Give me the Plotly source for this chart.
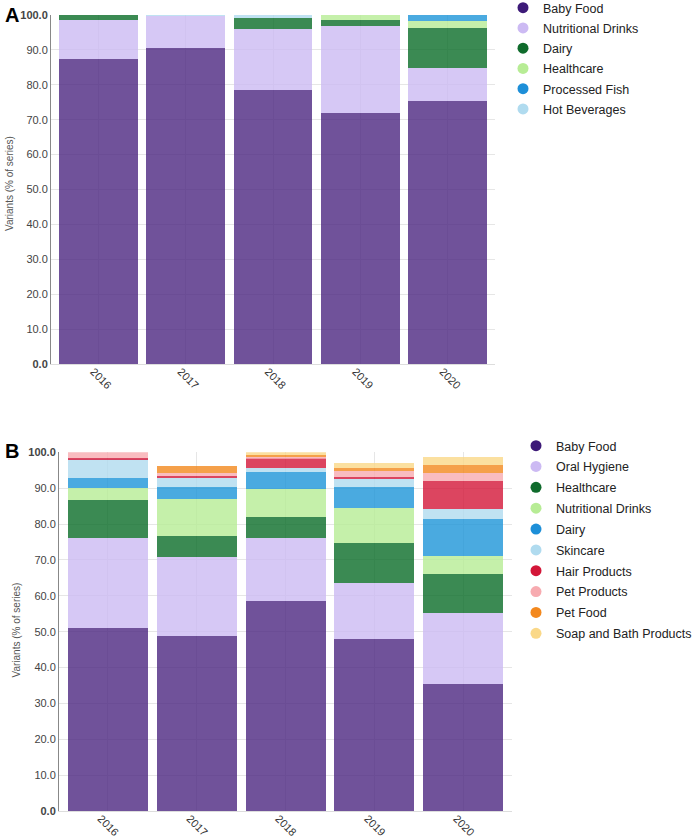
import plotly.graph_objects as go

years = ["2016", "2017", "2018", "2019", "2020"]

# Panel A (stacked % of series)
a_series = ["Baby Food", "Nutritional Drinks", "Dairy", "Healthcare", "Processed Fish", "Hot Beverages"]
a_baby_food = [87.3, 90.6, 78.5, 71.8, 75.4]
a_nutritional_drinks = [11.3, 9.2, 17.5, 25.1, 9.5]
a_dairy = [1.4, 0.0, 3.1, 1.6, 11.5]
a_healthcare = [0.0, 0.0, 0.0, 1.5, 2.0]
a_processed_fish = [0.0, 0.0, 0.0, 0.0, 1.6]
a_hot_beverages = [0.0, 0.2, 0.9, 0.0, 0.0]

# Panel B
b_series = ["Baby Food", "Oral Hygiene", "Healthcare", "Nutritional Drinks", "Dairy", "Skincare",
            "Hair Products", "Pet Products", "Pet Food", "Soap and Bath Products"]
b_baby_food = [50.9, 48.7, 58.5, 47.9, 35.5]
b_oral_hygiene = [25.1, 22.2, 17.5, 15.6, 19.6]
b_healthcare = [10.7, 5.8, 6.0, 11.1, 10.9]
b_nutritional_drinks = [3.4, 10.4, 7.7, 9.8, 5.1]
b_dairy = [2.8, 3.1, 4.9, 5.8, 10.2]
b_skincare = [5.1, 2.6, 0.9, 2.3, 2.8]
b_hair_products = [0.4, 0.7, 2.8, 0.7, 8.0]
b_pet_products = [1.6, 0.6, 0.5, 1.7, 2.2]
b_pet_food = [0.0, 2.1, 0.4, 0.6, 2.1]
b_soap_bath = [0.0, 0.0, 0.8, 1.6, 2.4]

y_tick_vals = [0, 10, 20, 30, 40, 50, 60, 70, 80, 90, 100]
y_tick_text = ["<b>0.0</b>", "10.0", "20.0", "30.0", "40.0", "50.0", "60.0", "70.0", "80.0", "90.0", "<b>100.0</b>"]

palette = ["#4c2781", "#ccbaf3", "#0a6d28", "#b7ec95", "#1d95d8", "#b0dbef",
           "#d31638", "#f7abb0", "#f3881d", "#fad888"]
legend_palette = ["#3d1a78", "#ccbaf3", "#0f6b2c", "#b7ec95", "#1d8fd8", "#b0dbef",
                  "#d31638", "#f7abb0", "#f3881d", "#fad888"]

a_values = [a_baby_food, a_nutritional_drinks, a_dairy, a_healthcare, a_processed_fish, a_hot_beverages]
b_values = [b_baby_food, b_oral_hygiene, b_healthcare, b_nutritional_drinks, b_dairy, b_skincare,
            b_hair_products, b_pet_products, b_pet_food, b_soap_bath]

FONT = "Liberation Sans, Arial, sans-serif"
W, H = 700, 839

fig = go.Figure()

def add_panel(names, values, xa, ya, legend, tag):
    for i, (name, vals) in enumerate(zip(names, values)):
        fig.add_trace(go.Bar(
            x=years, y=vals, name=name, xaxis=xa, yaxis=ya,
            marker=dict(color=palette[i], opacity=0.8, line=dict(width=0)),
            showlegend=False, hoverinfo="x+y+name",
        ))
    for i, name in enumerate(names):
        fig.add_trace(go.Scatter(
            x=[None], y=[None], mode="markers", name=name, xaxis=xa, yaxis=ya,
            marker=dict(color=legend_palette[i], size=11, symbol="circle"),
            legend=legend, legendgroup=f"{tag}{i}", showlegend=True,
        ))

add_panel(a_series, a_values, "x", "y", "legend", "a")
add_panel(b_series, b_values, "x2", "y2", "legend2", "b")

def px_x(p):
    return p / W

def px_y(p):
    return 1 - p / H

axis_common_x = dict(
    type="category", showgrid=True, gridcolor="#e6e6e6", gridwidth=1,
    showline=True, linecolor="#dddddd", linewidth=1, ticks="",
    tickangle=45, tickfont=dict(family=FONT, size=11, color="#333333"),
    ticklabelstandoff=-4,
    zeroline=False, fixedrange=True, automargin=False,
)
axis_common_y = dict(
    range=[0, 100], tickvals=y_tick_vals, ticktext=y_tick_text,
    showgrid=True, gridcolor="#e6e6e6", gridwidth=1,
    showline=True, linecolor="#888888", linewidth=1, ticks="",
    tickfont=dict(family=FONT, size=11, color="#444444"),
    zeroline=False, fixedrange=True, automargin=False,
)

fig.update_layout(
    width=W, height=H,
    margin=dict(l=0, r=0, t=0, b=0, autoexpand=False),
    paper_bgcolor="white", plot_bgcolor="white",
    barmode="stack", bargap=0.1,
    font=dict(family=FONT, color="#222222"),
    xaxis=dict(axis_common_x, domain=[px_x(51), px_x(495)], range=[-0.544, 4.544], anchor="y",
               ticklabelshift=-5),
    yaxis=dict(axis_common_y, domain=[px_y(364), px_y(15)], anchor="x"),
    xaxis2=dict(axis_common_x, domain=[px_x(59), px_x(512)], range=[-0.548, 4.548], anchor="y2",
                ticklabelshift=-7),
    yaxis2=dict(axis_common_y, domain=[px_y(811), px_y(452.3)], anchor="x2"),
    legend=dict(x=px_x(503), y=px_y(-7), xanchor="left", yanchor="top", traceorder="grouped",
                font=dict(family=FONT, size=12.5, color="#222222"),
                bgcolor="rgba(0,0,0,0)", itemclick=False, tracegroupgap=1),
    legend2=dict(x=px_x(516), y=px_y(431), xanchor="left", yanchor="top", traceorder="grouped",
                 font=dict(family=FONT, size=12.5, color="#222222"),
                 bgcolor="rgba(0,0,0,0)", itemclick=False, tracegroupgap=1.6),
    showlegend=True,
)

annotations = [
    dict(text="<b>A</b>", x=px_x(3), y=px_y(15), xref="paper", yref="paper",
         xanchor="left", yanchor="middle", showarrow=False,
         font=dict(family=FONT, size=20, color="#000000")),
    dict(text="<b>B</b>", x=px_x(3), y=px_y(451), xref="paper", yref="paper",
         xanchor="left", yanchor="middle", showarrow=False,
         font=dict(family=FONT, size=20, color="#000000")),
    dict(text="Variants (% of series)", x=px_x(9), y=px_y(184), xref="paper", yref="paper",
         xanchor="center", yanchor="middle", showarrow=False, textangle=-90,
         font=dict(family=FONT, size=10, color="#555555")),
    dict(text="Variants (% of series)", x=px_x(15.5), y=px_y(630), xref="paper", yref="paper",
         xanchor="center", yanchor="middle", showarrow=False, textangle=-90,
         font=dict(family=FONT, size=10, color="#555555")),
]
fig.update_layout(annotations=annotations)

# the page body's default 8px margin is removed so the figure fills the window exactly
fig.write_html(
    "out.html",
    config={"displayModeBar": False},
    post_script="document.body.style.margin='0';document.body.style.overflow='hidden';",
)
